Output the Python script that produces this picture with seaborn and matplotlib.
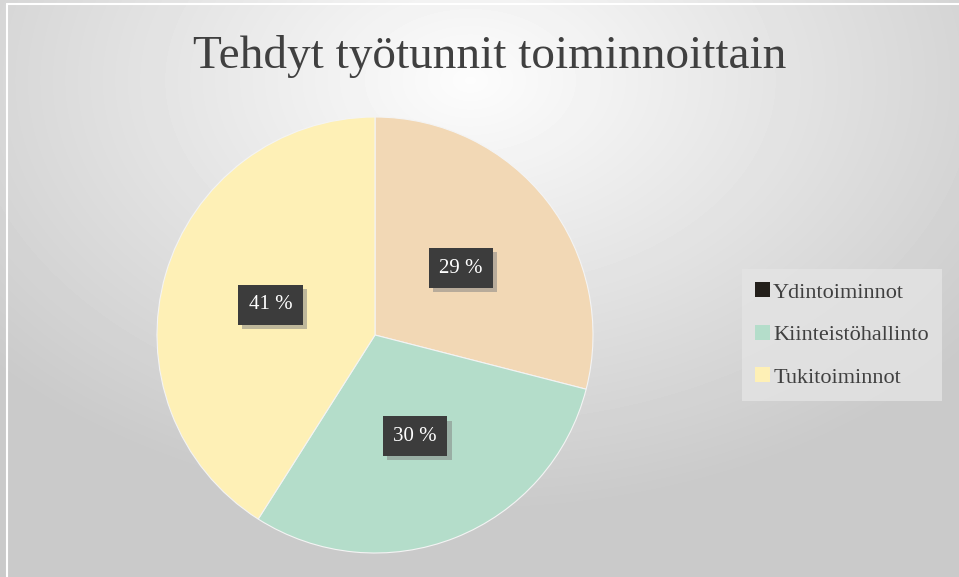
import numpy as np
import matplotlib
matplotlib.use("Agg")
import matplotlib.pyplot as plt
import matplotlib.patheffects as pe
from matplotlib.patches import Patch
import seaborn as sns

sns.set_style("white")
plt.rcParams['font.family'] = ['Liberation Serif', 'DejaVu Serif']

# data
categories = ["Ydintoiminnot", "Kiinteistöhallinto", "Tukitoiminnot"]
shares = [29, 30, 41]
slice_colors = ["#F2D8B5", "#B4DDCA", "#FEF0B6"]
legend_colors = ["#231F1A", "#B4DDCA", "#FEF0B6"]
title = "Tehdyt työtunnit toiminnoittain"

fig = plt.figure(figsize=(9.59, 5.77), dpi=100)

# soft radial gradient background
bg = fig.add_axes([0, 0, 1, 1], zorder=-10)
yy, xx = np.mgrid[0:577, 0:959]
d = np.sqrt(((xx - 470) / 959) ** 2 + ((yy - 80) / 650) ** 2)
shade = np.clip(0.99 - 0.30 * d, 0.79, 1.0)
bg.imshow(shade, cmap="gray", vmin=0, vmax=1, aspect="auto",
          extent=[0, 1, 0, 1], origin="upper")
bg.plot([0.007, 0.007], [0, 0.993], color="white", lw=1.5)
bg.plot([0.007, 1], [0.993, 0.993], color="white", lw=1.5)
bg.set_xlim(0, 1)
bg.set_ylim(0, 1)
bg.axis("off")

# pie
cx, cy, r = 375 / 959, 1 - 335 / 577, 218
ax = fig.add_axes([cx - r / 959, cy - r / 577, 2 * r / 959, 2 * r / 577])
ax.patch.set_alpha(0)
wedges, texts, autotexts = ax.pie(
    shares, colors=slice_colors, startangle=90, counterclock=False,
    autopct=lambda p: f"{p:.0f} %", pctdistance=0.5, radius=1,
    wedgeprops=dict(linewidth=0.8, edgecolor="#f4f4f4"),
    textprops=dict(color="white", fontsize=15))
ax.set_xlim(-1, 1)
ax.set_ylim(-1, 1)
ax.set_aspect("equal")

for t in autotexts:
    t.set_bbox(dict(boxstyle="square,pad=0.5", facecolor="#3C3C3C",
                    edgecolor="none"))
    t.get_bbox_patch().set_path_effects([
        pe.SimplePatchShadow(offset=(3, -3), shadow_rgbFace="#808080", alpha=0.5),
        pe.Normal()])
    t.set_zorder(5)

# legend
handles = [Patch(facecolor=c, edgecolor="none") for c in legend_colors]
leg = fig.legend(handles, categories, loc="center left",
                 bbox_to_anchor=(742 / 959, 1 - 335 / 577),
                 frameon=True, fontsize=16, handlelength=0.65, handleheight=0.65,
                 handletextpad=0.15, labelspacing=1.0, borderpad=0.6,
                 borderaxespad=0, fancybox=False)
leg.get_frame().set_facecolor("#e4e4e4")
leg.get_frame().set_edgecolor("none")
for t in leg.get_texts():
    t.set_color("#404040")

fig.text(490 / 959, 1 - 57 / 577, title, ha="center", va="center",
         fontsize=34, color="#404040")

fig.savefig("out.png", dpi=100)
